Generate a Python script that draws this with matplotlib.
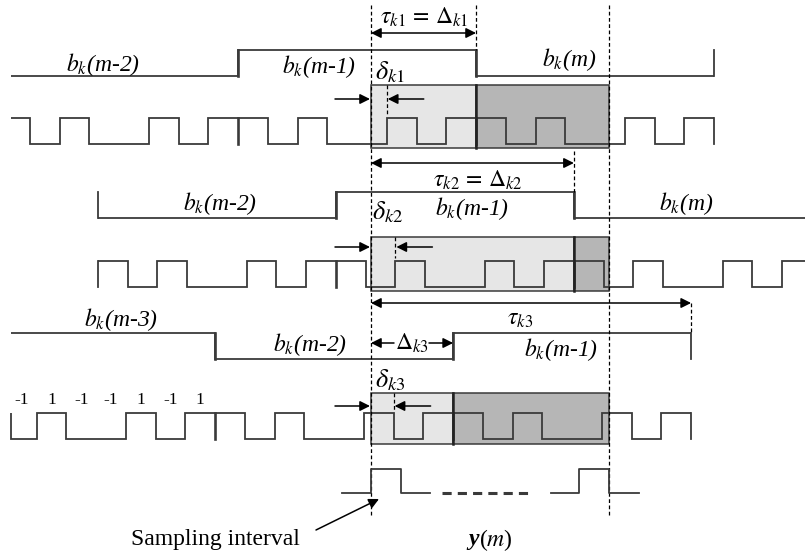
import numpy as np
import matplotlib.pyplot as plt
from matplotlib.patches import Rectangle

plt.rcParams['font.family'] = ['Liberation Serif', 'DejaVu Serif']
plt.rcParams['mathtext.fontset'] = 'stix'

# spreading code of user k, one bit = 8 chips
code = [1, -1, 1, -1, -1, 1, -1, 1]
chip_labels = ['-1', '1', '-1', '-1', '1', '-1', '1']
# data bits on the three paths (oldest first)
bits = [[-1, 1, -1], [-1, 1, -1], [1, -1, 1]]
bit_names = [['m-2', 'm-1', 'm'], ['m-2', 'm-1', 'm'], ['m-3', 'm-2', 'm-1']]
# path delay tau_kl = end of b_k(m-1) measured from start of y(m), in chips
tau_chips = [3.53, 6.82, 10.76]

# layout (pixels)
Tc = 29.75
N = len(code)
Tb = N * Tc
t0 = 371
x_left, x_right = 11, 805
data_hi = [50, 192, 333]
data_lo = [76, 218, 359]
chip_hi = [118, 261, 413]
chip_lo = [144, 287, 439]
box_top = [85, 237, 393]
box_bot = [148, 291, 444]
tau_y = [33, 163, 303]
delta_y = [99, 247, 406]
name_pos = [[(103, 65), (319, 67), (569, 60)],
            [(220, 204), (472, 209), (686, 204)],
            [(121, 320), (310, 345), (561, 350)]]
delta_pos = [(390, 72), (388, 212), (390, 380)]

LC = '#3a3a3a'
light, dark = '#e6e6e6', '#b6b6b6'
dash = (0, (3, 2))

fig = plt.figure(figsize=(8.05, 5.54), dpi=100)
ax = fig.add_axes([0, 0, 1, 1])
ax.set_xlim(0, 805)
ax.set_ylim(554, 0)
ax.axis('off')


def arrow(x0, y0, x1, y1, style='-|>'):
    ax.annotate('', xy=(x1, y1), xytext=(x0, y0),
                arrowprops=dict(arrowstyle=style, color='k', lw=1.1,
                                mutation_scale=15, shrinkA=0, shrinkB=0))


def vdash(x, y0, y1):
    ax.plot([x, x], [y0, y1], color='k', lw=0.9, ls=dash)


for r in range(3):
    tau = tau_chips[r] * Tc
    i_m1 = bit_names[r].index('m-1')
    start = t0 + tau - Tb * (i_m1 + 1)
    bit_edges = start + Tb * np.arange(len(bits[r]) + 1)
    xs = max(x_left, bit_edges[0])
    xe = min(x_right, bit_edges[-1])

    # boxes of the sampling interval
    split = t0 + (tau % Tb)
    ax.add_patch(Rectangle((t0, box_top[r]), split - t0, box_bot[r] - box_top[r],
                           fc=light, ec=LC, lw=1.1, zorder=1))
    ax.add_patch(Rectangle((split, box_top[r]), t0 + Tb - split, box_bot[r] - box_top[r],
                           fc=dark, ec=LC, lw=1.1, zorder=1))
    ax.plot([split, split], [box_top[r], box_bot[r]], color='#222222', lw=1.8, zorder=3)

    # data waveform
    lev = [data_hi[r] if b > 0 else data_lo[r] for b in bits[r]]
    ax.stairs(lev, np.clip(bit_edges, xs, xe), baseline=None, color=LC, lw=1.3, zorder=2)
    for xb in bit_edges[1:-1]:
        ax.plot([xb, xb], [data_hi[r], data_lo[r]], color=LC, lw=1.9, zorder=2)
    if bit_edges[0] >= x_left:
        ax.plot([xs, xs], [data_hi[r], data_lo[r]], color=LC, lw=1.3)
    if bit_edges[-1] <= x_right:
        ax.plot([xe, xe], [data_hi[r], data_lo[r]], color=LC, lw=1.3)

    # spread chips
    chips = np.tile(code, len(bits[r]))
    clev = [chip_hi[r] if c > 0 else chip_lo[r] for c in chips]
    chip_edges = start + Tc * np.arange(len(chips) + 1)
    ax.stairs(clev, np.clip(chip_edges, xs, xe), baseline=None, color=LC, lw=1.3, zorder=2)
    for xb in bit_edges[1:-1]:
        ax.plot([xb, xb], [chip_hi[r], chip_lo[r]], color=LC, lw=1.9, zorder=2)
    if bit_edges[0] >= x_left:
        ax.plot([xs, xs], [chip_hi[r], chip_lo[r]], color=LC, lw=1.3)
    if bit_edges[-1] <= x_right:
        ax.plot([xe, xe], [chip_hi[r], chip_lo[r]], color=LC, lw=1.3)

    # bit labels
    for (px, py), nm in zip(name_pos[r], bit_names[r]):
        ax.text(px, py, r'$b_k$(' + nm + ')', fontsize=17, style='italic',
                ha='center', va='center')

    # delta_k: chip offset inside the interval
    d = t0 + (tau % Tc)
    vdash(d, box_top[r], chip_hi[r] - 3 if r else chip_lo[r] - 30)
    arrow(t0 - 36, delta_y[r], t0 - 1, delta_y[r])
    arrow(d + 37, delta_y[r], d + 1, delta_y[r])
    ax.text(delta_pos[r][0], delta_pos[r][1], r'$\delta_{k%d}$' % (r + 1),
            fontsize=19, ha='center', va='center')

    # tau_k arrow
    arrow(t0, tau_y[r], t0 + tau, tau_y[r], '<|-|>')
    if r < 2:
        vdash(t0 + tau, 5 if r == 0 else tau_y[r] - 12, data_hi[r])
    else:
        vdash(t0 + tau, tau_y[r], data_hi[r])

# chip values of the first bit in path 3
start3 = t0 + tau_chips[2] * Tc - Tb * 3
for j, lab in enumerate(chip_labels):
    ax.text(start3 + Tc * (j + 1.5), 400, lab, fontsize=12.5, ha='center', va='center')

ax.text(424, 17, r'$\tau_{k1}\,=\,\Delta_{k1}$', fontsize=17, ha='center', va='center')
ax.text(478, 180, r'$\tau_{k2}\,=\,\Delta_{k2}$', fontsize=17, ha='center', va='center')
ax.text(520, 320, r'$\tau_{k3}$', fontsize=17, ha='center', va='center')

# Delta_k3
split3 = t0 + (tau_chips[2] * Tc % Tb)
ax.text(412, 343, r'$\Delta_{k3}$', fontsize=17, ha='center', va='center')
arrow(394, 343, t0, 343)
arrow(429, 343, split3, 343)

# sampling interval lines
vdash(t0, 5, 515)
vdash(t0 + Tb, 5, 515)

# y(m) sampling pulses
base, top = 493, 469
ax.plot([342, t0, t0, t0 + Tc, t0 + Tc, 430],
        [base, base, top, top, base, base], color=LC, lw=1.3)
ax.plot([442, 529], [base, base], color=LC, lw=2.2, ls=(0, (3, 2)))
xr = t0 + Tb
ax.plot([551, xr - Tc, xr - Tc, xr, xr, 639],
        [base, base, top, top, base, base], color=LC, lw=1.3)

ax.text(215, 540, 'Sampling interval', fontsize=17, ha='center', va='center')
arrow(316, 530, 379, 499)
ax.text(479, 540, 'y', fontsize=17, style='italic', weight='bold', ha='right', va='center')
ax.text(479, 540, r'($m$)', fontsize=17, ha='left', va='center')

fig.savefig('out.png', dpi=100)
